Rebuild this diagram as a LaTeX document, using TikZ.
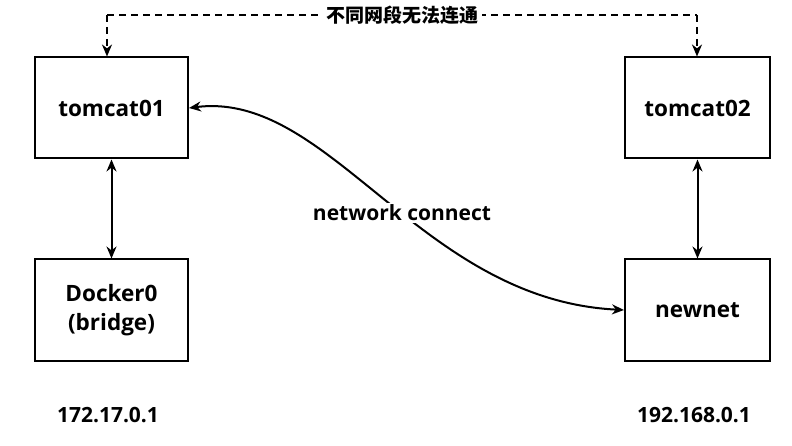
\documentclass[tikz,border=0pt]{standalone}
\usepackage{fontspec}
\setmainfont{Open Sans}
\newfontfamily\cjk{Noto Sans CJK SC}
\usetikzlibrary{arrows.meta}
\begin{document}
\begin{tikzpicture}[x=1pt,y=-1pt,
  box/.style={draw,line width=2pt,minimum width=153pt,minimum height=101pt,align=center,font=\fontsize{22.5}{29}\selectfont\bfseries},
  lbl/.style={font=\fontsize{21}{25}\selectfont\bfseries},
  ar/.style={line width=2pt,{Stealth[length=12pt,width=10pt]}-{Stealth[length=12pt,width=10pt]}},
  dsh/.style={line width=2pt,dash pattern=on 7pt off 5pt}]
\fill[white] (0,0) rectangle (792,446);
\node[box] (t1) at (111.5,108) {tomcat01};
\node[box] (d0) at (111.5,310) {Docker0\\(bridge)};
\node[box,minimum width=145pt] (t2) at (697.5,108) {tomcat02};
\node[box,minimum width=145pt] (nn) at (697.5,310) {newnet};
\draw[ar] (t1) -- (d0);
\draw[ar] (t2) -- (nn);
\coordinate (a) at (107,15);
\coordinate (b) at (697,15);
\draw[dsh,-{Stealth[length=12pt,width=10pt]}] (a) -- (t1.north-|a);
\draw[dsh,-{Stealth[length=12pt,width=10pt]}] (b) -- (t2.north-|b);
\draw[dsh] (a) -- (b);
\node[fill=white,inner sep=4pt,font=\cjk\fontsize{19}{22}\selectfont\bfseries] (lab) at (402,15) {不同网段无法连通};
\draw[ar] (t1.east) .. controls (330,90) and (420,300) .. (nn.west);
\node[lbl,fill=white,inner sep=2pt] (nc) at (402,213) {network connect};
\node[lbl] (ip1) at (108,415) {172.17.0.1};
\node[lbl] (ip2) at (694,415) {192.168.0.1};
\end{tikzpicture}
\end{document}
